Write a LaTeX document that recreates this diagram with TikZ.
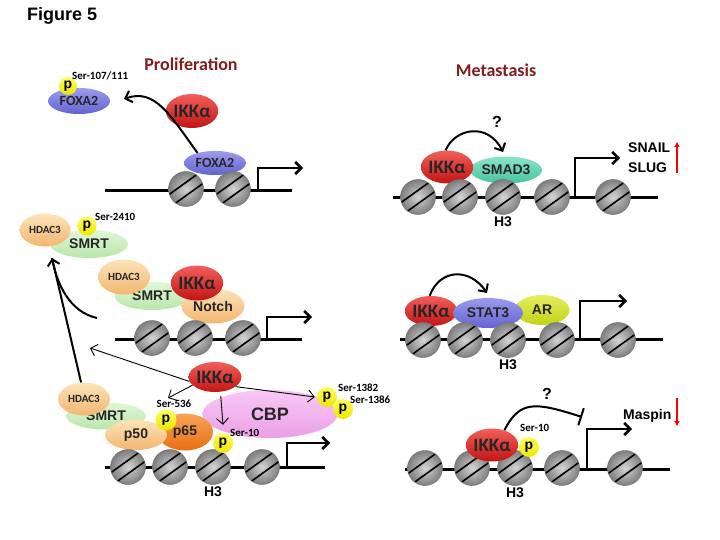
\documentclass[tikz,border=0pt]{standalone}
\usepackage{fontspec}
\setmainfont{Liberation Sans}
\newfontfamily\calibri{Carlito}
\usetikzlibrary{shapes.geometric,arrows.meta,positioning}

\definecolor{ikktop}{RGB}{242,95,90}
\definecolor{ikkbot}{RGB}{195,20,20}
\definecolor{foxtop}{RGB}{155,155,238}
\definecolor{foxbot}{RGB}{100,100,210}
\definecolor{smadtop}{RGB}{140,228,200}
\definecolor{smadbot}{RGB}{70,195,160}
\definecolor{artop}{RGB}{228,238,95}
\definecolor{arbot}{RGB}{195,210,20}
\definecolor{peachtop}{RGB}{252,228,185}
\definecolor{peachbot}{RGB}{242,182,112}
\definecolor{smrttop}{RGB}{225,247,215}
\definecolor{smrtbot}{RGB}{185,230,170}
\definecolor{p65top}{RGB}{247,165,85}
\definecolor{p65bot}{RGB}{232,110,20}
\definecolor{cbptop}{RGB}{248,200,245}
\definecolor{cbpbot}{RGB}{236,160,230}
\definecolor{photop}{RGB}{255,255,90}
\definecolor{phobot}{RGB}{238,228,0}
\definecolor{nucin}{RGB}{212,212,212}
\definecolor{nucout}{RGB}{125,125,125}
\definecolor{headred}{RGB}{130,30,30}

\tikzset{
  prot/.style={ellipse, inner sep=0pt, text=black!85, font=\bfseries\fontsize{14}{14}\selectfont},
  ikk/.style={prot, minimum width=51pt, minimum height=34pt, top color=ikktop, bottom color=ikkbot,
    font=\calibri\bfseries\fontsize{19}{19}\selectfont},
  foxa/.style={prot, minimum width=62pt, minimum height=26pt, top color=foxtop, bottom color=foxbot,
    font=\calibri\bfseries\fontsize{14}{14}\selectfont},
  smad/.style={prot, minimum width=72pt, minimum height=27pt, top color=smadtop, bottom color=smadbot},
  stat/.style={prot, minimum width=70pt, minimum height=30pt, top color=foxtop, bottom color=foxbot},
  andro/.style={prot, minimum width=55pt, minimum height=30pt, top color=artop, bottom color=arbot},
  hdac/.style={prot, minimum width=51pt, minimum height=34pt, top color=peachtop, bottom color=peachbot,
    font=\calibri\bfseries\fontsize{11}{11}\selectfont},
  peach/.style={prot, top color=peachtop, bottom color=peachbot},
  smrt/.style={prot, minimum width=78pt, minimum height=28pt, top color=smrttop, bottom color=smrtbot},
  relA/.style={prot, minimum width=56pt, minimum height=37pt, top color=p65top, bottom color=p65bot},
  cbp/.style={prot, minimum width=135pt, minimum height=48pt, top color=cbptop, bottom color=cbpbot,
    font=\bfseries\fontsize{18}{18}\selectfont},
  pho/.style={circle, inner sep=0pt, minimum size=20pt, top color=photop, bottom color=phobot,
    font=\bfseries\fontsize{14}{14}\selectfont},
  ser/.style={inner sep=0pt, font=\calibri\bfseries\fontsize{11}{11}\selectfont},
  lab/.style={inner sep=0pt, font=\bfseries\fontsize{14}{14}\selectfont},
  qmark/.style={inner sep=0pt, font=\bfseries\fontsize{16}{16}\selectfont},
  heading/.style={inner sep=0pt, text=headred, font=\calibri\bfseries\fontsize{18}{18}\selectfont},
  nuc/.style={circle, minimum size=35pt, inner sep=0pt, inner color=nucin, outer color=nucout,
    draw=black!55, line width=0.5pt,
    path picture={
      \draw[black, line width=1.6pt] ([shift={(-19pt,-7pt)}]path picture bounding box.center)
        -- ([shift={(13pt,16pt)}]path picture bounding box.center);
      \draw[black, line width=1.6pt] ([shift={(-13pt,-16pt)}]path picture bounding box.center)
        -- ([shift={(19pt,7pt)}]path picture bounding box.center);
    }},
  dna/.style={line width=3pt},
  promoter/.style={line width=2.5pt, -{Straight Barb[length=6pt,width=12pt]}},
  curvearrow/.style={line width=2pt, -{Straight Barb[length=6pt,width=12pt]}},
  thinarrow/.style={line width=0.9pt, -{Straight Barb[length=6pt,width=12pt]}},
  blockarrow/.style={line width=2pt, -{Bar[width=18pt]}},
  upreg/.style={red, line width=1.5pt, -{Triangle[length=5pt,width=5pt]}}
}

\begin{document}
\begin{tikzpicture}[x=1pt,y=-1pt]
  \useasboundingbox[fill=white] (0,0) rectangle (720,540);

  \node [inner sep=0pt, anchor=base west, font=\bfseries\fontsize{18}{18}\selectfont] (fig) at (27,21) {Figure 5};
  \node [heading, anchor=base] (prolif) at (191,71) {Proliferation};
  \node [heading, anchor=base] (metast) at (496,77) {Metastasis};

  % FOXA2
  \node [foxa] (foxa2_free) at (79,101) {FOXA2};
  \node [pho, minimum size=18pt] (pho_fox) at (68,86) {p};
  \node [ser, anchor=base west] (ser_fox) at (72,80) {Ser-107/111};
  \node [ikk] (ikk_1) at (192,111) {IKKα};
  \node [foxa, minimum height=24pt] (foxa2_dna) at (215,163) {FOXA2};
  \coordinate (dna_1a) at (105,191);
  \coordinate (dna_1b) at (292,191);
  \draw [dna] (dna_1a) -- (dna_1b);
  \foreach \x [count=\i] in {186,233}
    \node [nuc] (nuc_1\i) at (\x,189) {};
  \coordinate (tss_1) at (258,191);
  \coordinate (tss_1e) at (303,168);
  \draw [promoter] (tss_1) |- (tss_1e);
  \coordinate (fox_out) at (124,99);
  \draw [curvearrow] (foxa2_dna.150) .. controls (170,115) and (155,88) .. (fox_out);

  % SMAD3
  \node [smad] (smad3) at (506,170) {SMAD3};
  \node [ikk, minimum height=33pt] (ikk_2) at (447,167) {IKKα};
  \coordinate (dna_2a) at (393,198);
  \coordinate (dna_2b) at (658,198);
  \draw [dna] (dna_2a) -- (dna_2b);
  \foreach \x [count=\i] in {418,460,503,552,613}
    \node [nuc] (nuc_2\i) at (\x,197) {};
  \node [lab, below=2pt of nuc_23] (h3_2) {H3};
  \coordinate (tss_2) at (575,198);
  \coordinate (tss_2e) at (620,158);
  \draw [promoter] (tss_2) |- (tss_2e);
  \coordinate (smad_in) at (503,152);
  \draw [curvearrow] (ikk_2.95) .. controls (455,128) and (488,122) .. (smad_in);
  \node [qmark] (q_2) at (497,122) {?};
  \node [lab, anchor=base west] (snail) at (628,153) {SNAIL};
  \node [lab, anchor=base west] (slug) at (628,173) {SLUG};
  \coordinate (up_a) at (677,173);
  \coordinate (up_b) at (677,142);
  \draw [upreg] (up_a) -- (up_b);

  % SMRT / Notch
  \node [smrt] (smrt_a) at (89,244) {SMRT};
  \node [hdac, minimum height=33pt] (hdac3_a) at (45,230) {HDAC3};
  \node [pho, minimum size=19pt] (pho_a) at (87,226) {p};
  \node [ser, anchor=base west] (ser_a) at (95,221) {Ser-2410};
  \node [smrt, minimum width=75pt] (smrt_b) at (152,296) {SMRT};
  \node [hdac, minimum width=52pt, minimum height=35pt] (hdac3_b) at (124,277) {HDAC3};
  \node [peach, minimum width=63pt, minimum height=35pt] (notch) at (213,306) {Notch};
  \node [ikk, minimum height=35pt] (ikk_b) at (197,283) {IKKα};
  \coordinate (dna_3a) at (115,339);
  \coordinate (dna_3b) at (302,339);
  \draw [dna] (dna_3a) -- (dna_3b);
  \foreach \x [count=\i] in {152,195,243}
    \node [nuc] (nuc_3\i) at (\x,338) {};
  \coordinate (tss_3) at (267,339);
  \coordinate (tss_3e) at (312,317);
  \draw [promoter] (tss_3) |- (tss_3e);
  \coordinate (hdac_in) at (52,258);
  \coordinate (notch_out) at (97,318);
  \draw [line width=2pt] (notch_out) .. controls (70,312) and (57,285) .. (hdac_in);

  % STAT3 / AR
  \node [andro] (ar) at (542,310) {AR};
  \node [ikk, minimum width=50pt, minimum height=30pt] (ikk_3) at (431,311) {IKKα};
  \node [stat] (stat3) at (488,313) {STAT3};
  \coordinate (dna_4a) at (400,339);
  \coordinate (dna_4b) at (663,339);
  \draw [dna] (dna_4a) -- (dna_4b);
  \foreach \x [count=\i] in {423,465,508,557,618}
    \node [nuc] (nuc_4\i) at (\x,340) {};
  \node [lab, below=2pt of nuc_43] (h3_4) {H3};
  \coordinate (tss_4) at (580,339);
  \coordinate (tss_4e) at (627,301);
  \draw [promoter] (tss_4) |- (tss_4e);
  \coordinate (stat_in) at (487,293);
  \draw [curvearrow] (ikk_3.95) .. controls (440,268) and (470,268) .. (stat_in);

  % CBP / NF-kB
  \node [cbp] (cbp) at (270,414) {CBP};
  \node [smrt, minimum width=80pt, minimum height=27pt] (smrt_c) at (106,416) {SMRT};
  \node [hdac, minimum width=52pt, minimum height=33pt] (hdac3_c) at (84,399) {HDAC3};
  \node [relA] (p65) at (185,432) {p65};
  \node [peach, minimum width=62pt, minimum height=30pt] (p50) at (136,435) {p50};
  \node [pho, minimum size=21pt] (pho_b) at (166,420) {p};
  \node [ser, anchor=base] (ser_b) at (174,407) {Ser-536};
  \node [ikk, minimum width=53pt, minimum height=30pt] (ikk_c) at (215,377) {IKKα};
  \node [pho] (pho_c1) at (327,397) {p};
  \node [pho] (pho_c2) at (343,409) {p};
  \node [ser, anchor=base west] (ser_c1) at (338,391) {Ser-1382};
  \node [ser, anchor=base west] (ser_c2) at (350,403) {Ser-1386};
  \coordinate (dna_5a) at (105,467);
  \coordinate (dna_5b) at (325,467);
  \draw [dna] (dna_5a) -- (dna_5b);
  \foreach \x [count=\i] in {128,170,213,262}
    \node [nuc] (nuc_5\i) at (\x,467) {};
  \node [lab, below=2pt of nuc_53] (h3_5) {H3};
  \node [pho] (pho_d) at (223,443) {p};
  \node [ser, anchor=base west] (ser_d) at (230,436) {Ser-10};
  \coordinate (tss_5) at (287,467);
  \coordinate (tss_5e) at (330,443);
  \draw [promoter] (tss_5) |- (tss_5e);
  \coordinate (ser536_tip) at (168,398);
  \coordinate (ikk_c_tip) at (90,348);
  \draw [thinarrow] (ikk_c.190) -- (ikk_c_tip);
  \draw [thinarrow] (ikk_c.200) -- (ser536_tip);
  \draw [thinarrow] (ikk_c.-25) -- ([xshift=-2pt]pho_c1.west);
  \draw [thinarrow, shorten <=4pt] (ikk_c.-70) -- ([yshift=8pt]pho_d.north);
  \draw [curvearrow] (hdac3_c.100) -- (hdac_in);

  % Maspin
  \coordinate (dna_6a) at (405,469);
  \coordinate (dna_6b) at (670,469);
  \draw [dna] (dna_6a) -- (dna_6b);
  \foreach \x [count=\i] in {425,472,515,562,625}
    \node [nuc] (nuc_6\i) at (\x,468) {};
  \node [lab, below=2pt of nuc_63] (h3_6) {H3};
  \node [ikk, minimum width=50pt, minimum height=33pt] (ikk_4) at (492,445) {IKKα};
  \node [pho] (pho_e) at (529,447) {p};
  \node [ser, anchor=base west] (ser_e) at (520,431) {Ser-10};
  \coordinate (tss_6) at (587,469);
  \coordinate (tss_6e) at (632,429);
  \draw [promoter] (tss_6) |- (tss_6e);
  \coordinate (block_6) at (582,417);
  \draw [blockarrow] (ikk_4.50) .. controls (520,400) and (535,402) .. (block_6);
  \node [qmark] (q_6) at (547,394) {?};
  \node [lab, anchor=base west] (maspin) at (623,419) {Maspin};
  \coordinate (down_a) at (677,398);
  \coordinate (down_b) at (677,426);
  \draw [upreg] (down_a) -- (down_b);
\end{tikzpicture}
\end{document}
